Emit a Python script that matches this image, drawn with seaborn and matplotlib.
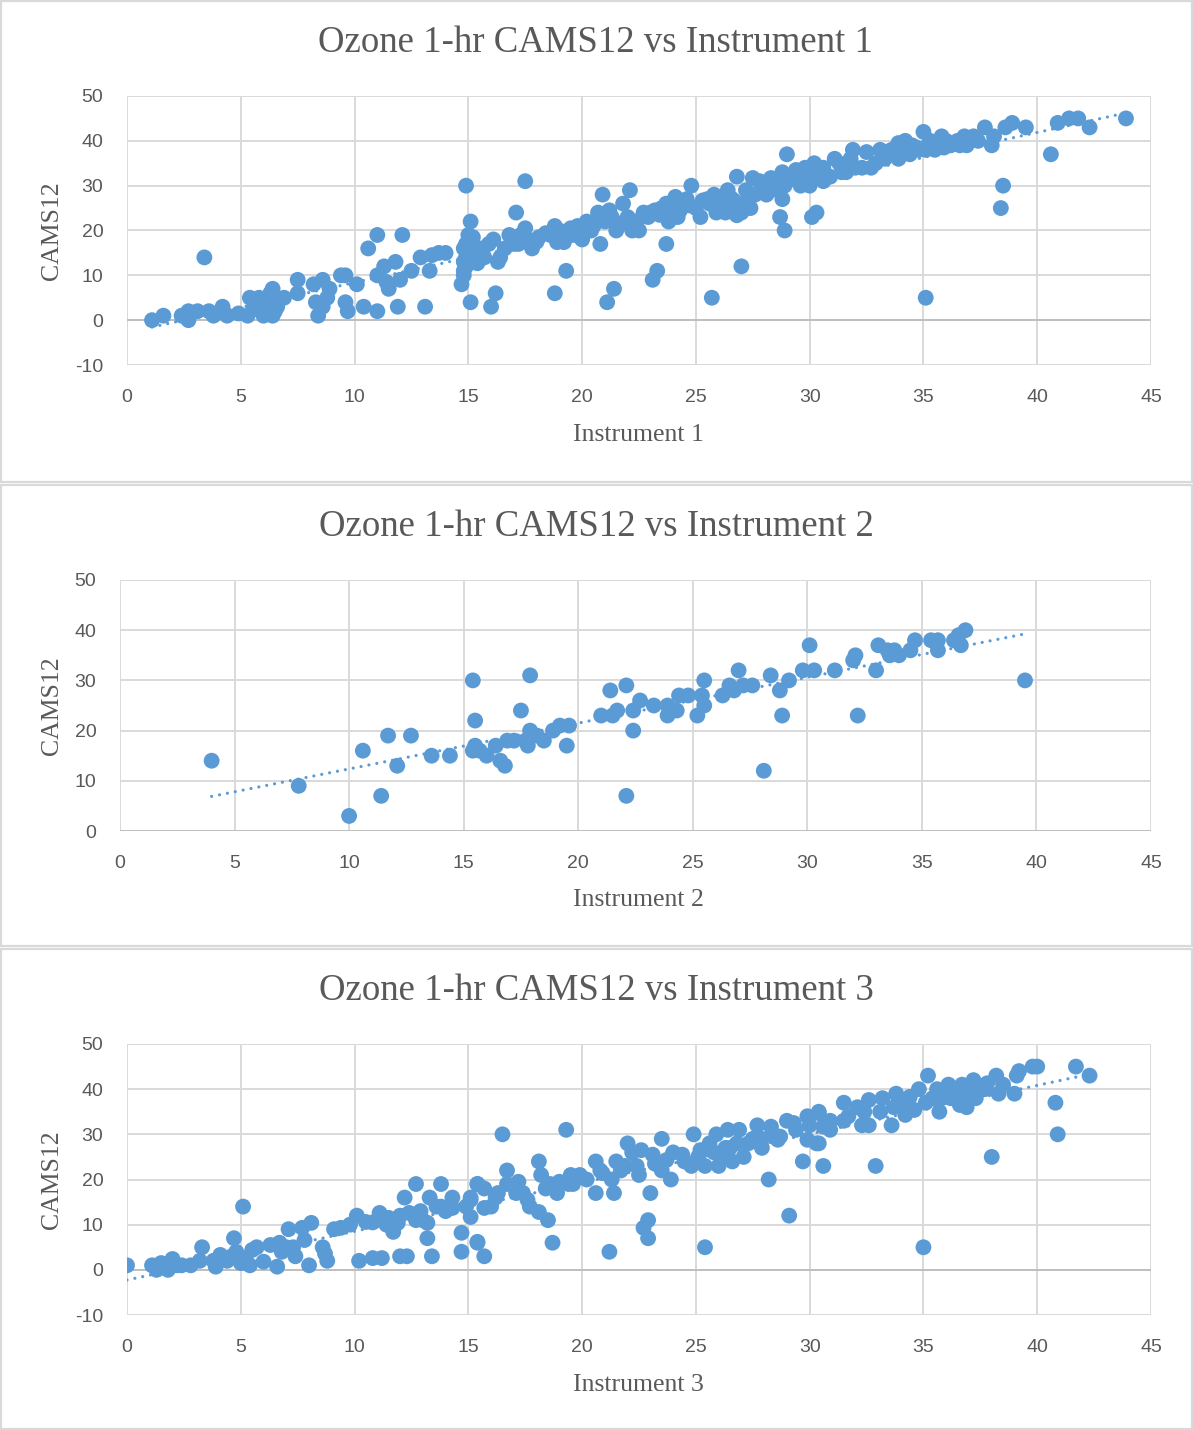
import matplotlib
matplotlib.use("Agg")
import matplotlib.pyplot as plt
import seaborn as sns
import pandas as pd
from matplotlib.patches import Rectangle

# ---------------- data ----------------
inst1_x = [
    1.1, 1.6, 2.4, 2.7, 2.7, 3.1, 3.4, 3.6, 3.8, 4.2, 4.4, 4.9, 5.4, 5.3, 5.8, 6.0, 6.4, 6.4, 6.5, 6.9,
    7.5, 7.5, 8.2, 8.3, 8.4, 8.6, 8.6, 8.8, 8.9, 9.4, 9.6, 9.6, 9.7, 10.1, 10.4, 10.6, 11.0, 11.0, 11.0, 11.3,
    11.4, 11.5, 11.8, 12.0, 11.9, 12.1, 12.5, 12.9, 13.1, 13.3, 13.4, 13.7, 14.0,
    5.6, 6.2, 6.6, 5.9, 6.3,
    14.9, 15.1, 15.0, 14.9, 14.8, 15.0, 14.9, 14.8, 14.9, 14.8, 14.8, 14.7, 15.1,
    15.2, 15.4, 15.4, 15.9, 16.1, 16.3, 16.4, 16.2, 16.0, 15.6, 15.7, 16.8, 17.1, 17.3, 17.5, 17.5, 17.8, 17.0,
    17.6, 18.1, 18.4, 18.8, 18.8, 18.9, 19.2, 19.3, 19.5, 19.0, 19.8, 20.0, 20.2, 20.5, 20.7, 20.9, 20.8, 21.2,
    21.4, 21.1, 21.5, 21.0, 21.3, 21.8, 22.1, 22.2, 22.5, 22.7, 22.0, 22.4, 23.1, 23.3, 23.2, 23.7, 23.7, 23.8,
    23.5, 24.2, 24.1, 24.0, 24.5, 24.8, 24.7, 25.2, 25.3, 25.7, 25.8, 25.5, 26.0, 26.3, 26.4, 26.8, 26.8, 27.0,
    27.0, 26.6, 27.2, 27.5, 27.8, 27.8, 28.1, 28.3, 28.5, 28.7, 28.8, 28.9, 29.0, 28.8, 29.4, 29.6, 29.2, 30.0,
    30.1, 30.3, 30.2, 30.6, 30.6, 30.4, 30.9,
    31.1, 31.6, 31.9, 31.3, 32.3, 32.5, 32.9, 33.1, 33.4, 33.9, 33.9, 34.2, 34.5, 34.0, 34.8, 35.0, 35.1, 35.1,
    35.5, 35.3, 35.8, 36.2, 36.5, 36.8, 36.9, 37.4, 37.7, 38.0, 38.1, 38.5, 38.4, 38.6, 38.9, 39.5, 40.6, 40.9,
    41.4, 41.8, 42.3, 43.9,
    16.6, 17.2, 18.0, 18.6, 19.7, 20.4, 19.5, 20.3, 21.6, 22.3, 22.9, 23.4, 24.3, 25.0, 25.6, 26.2, 26.7, 27.3,
    27.6, 28.3, 28.9, 29.5, 30.0, 30.8, 31.4, 32.0, 32.7, 33.3, 34.4, 35.2, 36.0, 36.6, 37.2, 33.6, 34.7, 35.9,
    24.6, 25.9, 26.9, 27.4, 29.8, 31.8, 21.9, 23.0,
]
inst1_cams = [
    0, 1, 1, 0, 2, 2, 14, 2, 1, 3, 1, 1.5, 5, 1, 5, 1, 1, 7, 2, 5,
    9, 6, 8, 4, 1, 9, 3, 5, 7, 10, 10, 4, 2, 8, 3, 16, 2, 19, 10, 12,
    8.5, 7, 13, 9, 3, 19, 11, 14, 3, 11, 14.5, 15, 15,
    3, 4, 3, 2, 6,
    30, 22, 19, 17, 16, 15, 14, 13, 12, 11, 10, 8, 4,
    18.5, 15.6, 12.7, 17, 18, 13, 14, 6, 3, 16, 14, 19, 24, 19, 31, 20.5, 16, 17,
    18, 18.5, 19.4, 21, 6, 17.4, 17.4, 11, 20.5, 20, 21, 18, 22, 21, 24, 28, 17, 24.5,
    7, 4, 20, 22, 23, 26, 29, 20, 20, 24, 23, 22, 9, 11, 24.5, 26, 17, 22,
    25, 23, 27.5, 25, 26, 30, 25.6, 23, 26.7, 5, 28, 27, 25, 24, 29, 23.4, 32, 12,
    24, 27, 29, 31.7, 31, 28.6, 28, 31.7, 30, 23, 27, 20, 37, 33, 33.5, 30, 32, 32,
    23, 24, 35, 34, 31, 33, 32,
    36, 33, 38, 35, 34, 37.5, 35, 38, 37, 36, 39.5, 40, 39, 38, 38, 42, 5, 38,
    38, 40, 41, 39, 40, 41, 39, 40, 43, 39, 41, 30, 25, 43, 44, 43, 37, 44,
    45, 45, 43, 45,
    16, 17, 17.5, 19, 19, 20, 19, 20, 21, 22, 23, 23.5, 24.5, 25, 26, 26, 26.5, 27,
    28, 29, 30, 31, 30, 32, 33, 34, 34, 36, 37, 39, 40, 39, 41, 38, 38.5, 38.5,
    27, 24, 25, 25, 34, 36, 22, 24,
]

inst2_x = [
    4.0, 7.8, 10.0, 10.6, 11.4, 11.7, 12.1, 12.7, 13.6, 14.4, 15.4, 15.5, 15.5, 15.4, 15.7, 16.0, 16.4, 16.6,
    16.8, 16.9, 17.2, 17.5, 17.7, 17.9, 17.8, 17.9, 18.2, 18.5, 18.9, 19.2, 19.5, 19.6,
    21.4, 22.1, 21.0, 21.5, 21.7, 22.4, 22.4, 22.1, 22.7, 23.3, 23.9, 23.9, 24.4, 24.3, 24.8, 25.2, 25.4, 25.5,
    25.5, 26.3, 26.6, 26.8, 27.0, 27.2, 27.6, 28.1, 28.4, 28.8, 28.9, 29.2, 29.8, 30.1, 30.3, 31.2, 32.1, 32.0,
    32.2, 33.0, 33.1, 33.5, 33.6, 33.8, 34.0, 34.5, 34.7, 35.4, 35.7, 35.7, 36.4, 36.6, 36.7, 36.9, 39.5,
]
inst2_cams = [
    14, 9, 3, 16, 7, 19, 13, 19, 15, 15, 30, 22, 17, 16, 16, 15, 17, 14,
    13, 18, 18, 24, 18, 31, 17, 20, 19, 18, 20, 21, 17, 21,
    28, 29, 23, 23, 24, 24, 20, 7, 26, 25, 25, 23, 27, 24, 27, 23, 27, 30,
    25, 27, 29, 28, 32, 29, 29, 12, 31, 28, 23, 30, 32, 37, 32, 32, 35, 34,
    23, 32, 37, 36, 35, 36, 35, 36, 38, 38, 36, 38, 38, 39, 37, 40, 30,
]

inst3_x = [
    0.0, 1.1, 1.3, 1.5, 1.8, 2.0, 2.4, 2.8, 3.3, 3.2, 3.8, 3.9, 4.1, 4.4, 4.7, 5.0, 4.8, 5.1, 5.4, 5.5,
    5.7, 6.0, 6.3, 6.6, 6.7, 7.0, 7.1, 7.4, 7.7, 7.8, 8.0, 8.1, 8.6, 8.7, 8.8, 9.1, 9.4, 10.1, 10.2, 10.5,
    10.8, 11.1, 11.2, 11.4, 11.7, 11.9, 12.0, 12.3, 12.2, 12.7, 12.4, 12.7, 13.0, 13.3, 13.2, 13.2, 13.4, 13.8,
    13.8, 14.3, 14.3, 14.7, 14.7, 14.9, 15.1, 15.4, 15.4,
    15.1, 15.1, 15.4, 15.7, 15.7, 15.4, 15.7, 16.2, 16.5, 16.7, 16.7, 17.1, 17.2, 17.6, 17.7, 18.1, 18.1, 18.5,
    18.2, 18.7, 18.6, 18.9, 19.0, 19.3, 19.4, 19.5, 19.9, 20.6, 20.6, 20.9, 21.2, 21.3, 21.4, 21.5, 21.9, 22.0,
    22.2, 22.5, 22.6, 22.7, 22.9, 22.9, 23.0, 23.1, 23.5, 23.5, 23.7, 23.9, 24.0, 24.4, 24.8, 24.9, 25.2, 25.4,
    25.4, 25.6, 25.9, 26.0, 26.2, 26.4, 26.5, 26.6, 26.9, 27.1, 27.5, 27.7, 27.9, 28.2, 28.3, 28.6, 28.7, 29.0,
    29.1, 29.3, 29.7, 29.9, 29.9, 30.3, 30.4, 30.6, 30.6,
    30.4, 30.4, 30.9, 31.5, 31.5, 32.1, 32.3, 32.6, 32.6, 32.9, 33.2, 33.6, 33.8, 34.2, 34.4, 34.6, 34.8, 35.0,
    35.2, 35.4, 35.7, 35.6, 36.1, 36.2, 36.6, 36.7, 36.9, 37.2, 37.3, 37.5, 37.8, 38.0, 38.2, 38.3, 39.0, 39.1,
    39.2, 39.8, 40.0, 40.8, 40.9, 41.7, 42.3,
    24.5, 25.1, 25.8, 26.3, 26.8, 27.3, 27.9, 28.4, 29.4, 30.0, 30.9, 31.7, 32.4, 33.1, 33.7, 34.1, 35.1, 35.8,
    36.4, 37.0, 37.7, 38.5, 23.2, 22.4, 21.7, 20.8, 20.2, 19.6, 18.4, 17.4, 16.3, 16.0, 14.0, 13.6, 12.9, 12.0,
    11.5, 10.8, 9.8, 6.8, 7.3, 5.2, 4.6, 2.2, 1.9,
]
inst3_cams = [
    1, 1, 0, 1.5, 0, 2.4, 1, 1, 5, 2, 2, 0.7, 3.3, 2, 7, 1.5, 4, 14, 1, 4.4,
    5, 1.8, 5.5, 0.7, 6, 5, 9, 3, 9.3, 6.6, 1, 10.4, 5, 3.6, 2, 9, 9.3, 12, 2, 10.6,
    2.6, 12.6, 2.6, 10, 8.4, 10.4, 3, 3, 16, 19, 12.6, 11, 11, 16, 10.4, 7, 3, 19,
    14, 16, 13.7, 8.2, 4, 14, 16, 19, 6.2,
    15.5, 11.7, 19, 13.7, 18, 6, 3, 16, 30, 19, 22, 17, 19.5, 15.5, 14, 12.8, 24, 11,
    21, 6, 19, 17, 19.5, 31, 19, 21, 21, 24, 17, 21.4, 4, 20, 17, 24, 23, 28,
    26, 21, 26.5, 9.3, 11, 7, 17, 25.5, 29, 22, 24.3, 20, 26, 25.5, 23, 30, 26.5, 23,
    5, 28, 30, 23, 25.5, 31, 27, 24, 31, 25, 29, 32, 27, 20, 31.7, 28.8, 29.5, 33,
    12, 32.5, 24, 28.8, 34, 28, 35, 23, 31.7,
    34.7, 28, 33, 37, 33, 36, 32, 32, 37.6, 23, 38, 32, 39, 34.3, 38.3, 35.4, 40, 5,
    43, 38, 35, 40, 41, 38, 36.5, 41, 36, 42, 38, 40, 41.3, 25, 43, 39, 39, 43,
    44, 45, 45, 37, 30, 45, 43,
    24, 25, 26, 27, 28, 28, 29, 30, 31, 32, 31, 34, 35, 35, 36, 37, 37, 38,
    39, 39, 40, 41, 23.5, 23, 22, 22, 20, 19, 18, 17, 17, 14, 13, 14, 13, 12,
    11.5, 10.5, 10, 4, 5, 2.5, 3, 1, 1.2,
]

panels = [
    dict(x=inst1_x, y=inst1_cams, name="Instrument 1", ylim=(-10, 50),
         box=(127, 96, 1151, 365), frame=(1, 1, 1192, 482), title_y=43, xlabel_y=435),
    dict(x=inst2_x, y=inst2_cams, name="Instrument 2", ylim=(0, 50),
         box=(120, 580, 1151, 831), frame=(1, 485, 1192, 946), title_y=527, xlabel_y=900),
    dict(x=inst3_x, y=inst3_cams, name="Instrument 3", ylim=(-10, 50),
         box=(127, 1044, 1151, 1315), frame=(1, 949, 1192, 1429), title_y=991, xlabel_y=1385),
]

# ---------------- style ----------------
sns.set_style("white")
plt.rcParams["font.family"] = ["Liberation Serif", "DejaVu Serif"]
plt.rcParams["axes.unicode_minus"] = False

BLUE = "#5B9BD5"
GRID = "#D9D9D9"
AXIS = "#BFBFBF"
TEXT = "#595959"
W, H = 1193, 1430

fig = plt.figure(figsize=(W / 100, H / 100), dpi=100)
fig.patch.set_facecolor("white")

for p in panels:
    fl, ft, fr, fb = p["frame"]
    fig.patches.append(Rectangle((fl / W, 1 - fb / H), (fr - fl) / W, (fb - ft) / H,
                                 transform=fig.transFigure, fill=False,
                                 edgecolor=GRID, linewidth=1.6, zorder=0))

    l, t, r, b = p["box"]
    ax = fig.add_axes([l / W, 1 - b / H, (r - l) / W, (b - t) / H])
    df = pd.DataFrame({"inst": p["x"], "cams": p["y"]})

    sns.scatterplot(data=df, x="inst", y="cams", ax=ax, s=130, color=BLUE,
                    edgecolor="none", linewidth=0, zorder=3)
    sns.regplot(data=df, x="inst", y="cams", ax=ax, scatter=False, ci=None, truncate=True,
                color=BLUE,
                line_kws=dict(linewidth=2.3, linestyle=(0, (0.01, 2.5)),
                              dash_capstyle="round", zorder=4))

    ax.set_xlim(0, 45)
    ax.set_ylim(*p["ylim"])
    ax.set_xticks(range(0, 46, 5))
    ax.set_yticks(range(p["ylim"][0], 51, 10))
    ax.grid(True, color=GRID, linewidth=1.4)
    ax.set_axisbelow(True)
    for s in ax.spines.values():
        s.set_visible(False)
    ax.axhline(0, color=AXIS, linewidth=1.4, zorder=1)
    ax.tick_params(length=0, labelsize=14, labelcolor=TEXT, pad=17)
    for lab in ax.get_xticklabels() + ax.get_yticklabels():
        lab.set_fontfamily(["Liberation Sans", "DejaVu Sans"])
    ax.set_xlabel("")
    ax.set_ylabel("")

    fig.text(596 / W, 1 - p["title_y"] / H, f"Ozone 1-hr CAMS12 vs {p['name']}",
             ha="center", va="center", fontsize=26.5, color=TEXT)
    fig.text(638 / W, 1 - p["xlabel_y"] / H, p["name"],
             ha="center", va="center", fontsize=18.5, color=TEXT)
    fig.text(52 / W, 1 - ((t + b) / 2) / H, "CAMS12", rotation=90,
             ha="center", va="center", fontsize=18.5, color=TEXT)

fig.savefig("out.png", dpi=100, facecolor="white")
